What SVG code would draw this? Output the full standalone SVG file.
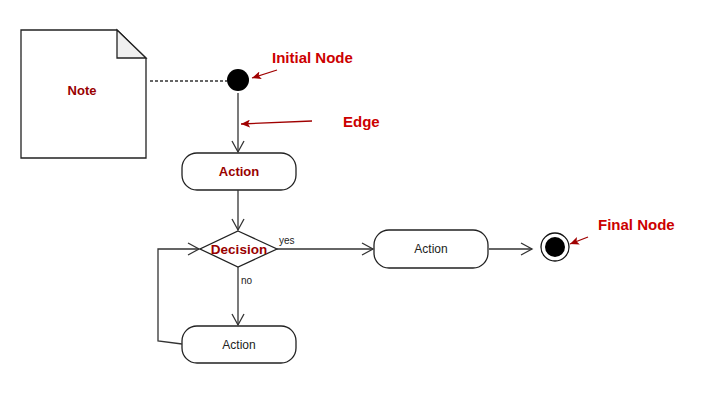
<svg xmlns="http://www.w3.org/2000/svg" width="702" height="416" viewBox="0 0 702 416">
<defs>
<style>
.ln{fill:none;stroke:#333;stroke-width:1.3}
.nd{fill:#fff;stroke:#222;stroke-width:1.3}
.bt{font-family:"Liberation Sans",Arial,sans-serif;font-weight:bold;fill:#990000;text-anchor:middle}
.nt{font-family:"Liberation Sans",Arial,sans-serif;fill:#222;text-anchor:middle;font-size:12px}
.sm{font-family:"Liberation Sans",Arial,sans-serif;fill:#222;font-size:10px}
.lb{font-family:"Liberation Sans",Arial,sans-serif;font-weight:bold;fill:#cc0000;font-size:15px}
.ra{fill:none;stroke:#a00000;stroke-width:1.3}
</style>
<marker id="open" markerWidth="14" markerHeight="14" refX="12" refY="7" orient="auto" markerUnits="userSpaceOnUse">
<path d="M1,1 L12,7 L1,13" fill="none" stroke="#333" stroke-width="1.3"/>
</marker>
<marker id="red" markerWidth="10" markerHeight="8" refX="9" refY="4" orient="auto" markerUnits="userSpaceOnUse">
<path d="M0,0 L9,4 L0,8 L2,4 Z" fill="#a00000"/>
</marker>
</defs>
<g id="note">
<path class="nd" d="M21,30 H117 L146,58 V158 H21 Z"/>
<path d="M117,30 V58 H146 Z" fill="#f0f0f0" stroke="#222" stroke-width="1.3"/>
<text class="bt" x="82" y="95" font-size="13">Note</text>
</g>
<g id="initial">
<circle cx="238" cy="80" r="11" fill="#000"/>
</g>
<g id="action1">
<rect class="nd" x="182" y="153" width="114" height="37" rx="15"/>
<text class="bt" x="239" y="176" font-size="13">Action</text>
</g>
<g id="decision">
<path class="nd" d="M238,231 L277,249 L238,267 L200,249 Z"/>
<text class="bt" x="239" y="254" font-size="13.5">Decision</text>
</g>
<g id="action2">
<rect class="nd" x="374" y="230" width="114" height="38" rx="15"/>
<text class="nt" x="431" y="253">Action</text>
</g>
<g id="action3">
<rect class="nd" x="182" y="326" width="114" height="37" rx="15"/>
<text class="nt" x="239" y="349">Action</text>
</g>
<g id="final">
<circle cx="555" cy="247" r="14" fill="#fff" stroke="#111" stroke-width="1.3"/>
<circle cx="555" cy="247" r="10" fill="#000"/>
</g>
<g id="connectors">
<line class="ln" x1="150" y1="81" x2="227" y2="81" stroke-dasharray="3,2"/>
<line class="ln" x1="238" y1="93" x2="238" y2="152" marker-end="url(#open)"/>
<line class="ln" x1="238" y1="190" x2="238" y2="230" marker-end="url(#open)"/>
<line class="ln" x1="277" y1="249" x2="373" y2="249" marker-end="url(#open)"/>
<line class="ln" x1="489" y1="249" x2="532" y2="249" marker-end="url(#open)"/>
<line class="ln" x1="238" y1="267" x2="238" y2="325" marker-end="url(#open)"/>
<path class="ln" d="M182,344 L158,341 V249 H199" marker-end="url(#open)"/>
<text class="sm" x="279" y="244">yes</text>
<text class="sm" x="241" y="284">no</text>
</g>
<g id="labels">
<text class="lb" x="272" y="63">Initial Node</text>
<line class="ra" x1="277" y1="70" x2="252" y2="78" marker-end="url(#red)"/>
<text class="lb" x="343" y="127">Edge</text>
<line class="ra" x1="312" y1="121" x2="241" y2="124" marker-end="url(#red)"/>
<text class="lb" x="598" y="230">Final Node</text>
<line class="ra" x1="588" y1="237" x2="570" y2="244" marker-end="url(#red)"/>
</g>
</svg>
